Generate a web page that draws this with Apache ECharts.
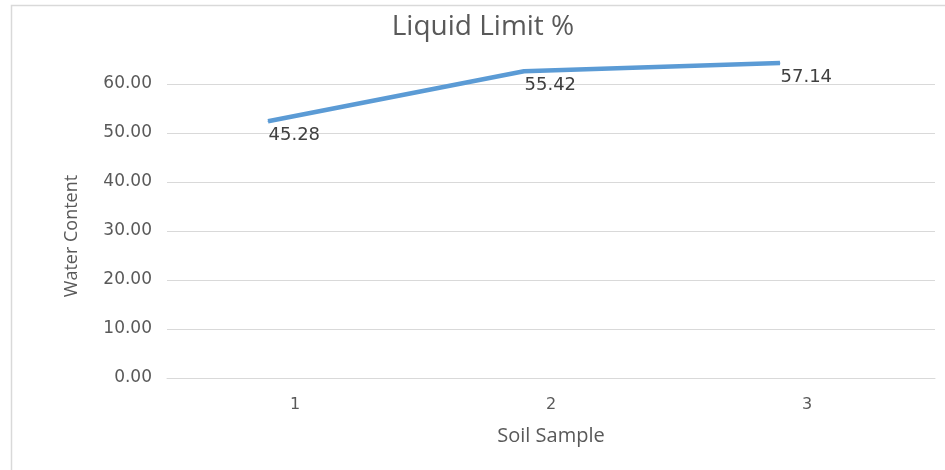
<!DOCTYPE html>
<html>
<head>
<meta charset="UTF-8">
<script src="https://cdn.jsdelivr.net/npm/echarts@6/dist/echarts.min.js"></script>
<style>
	html, body { margin: 0; padding: 0; background: #fff; }
	#main { width: 945px; height: 470px; }
</style>
</head>
<body>
	<div id="main"></div>
<script type="text/javascript">
// soil samples on the x axis
var categories = ['1', '2', '3'];
// where the line sits
var plottedValues = [52.4, 62.6, 64.3];
// numbers printed beside each point
var labelValues = [45.28, 55.42, 57.14];
// y axis range
var yMin = 0, yMax = 70, yStep = 10;

var grey = '#595959';
var gridGrey = '#d9d9d9';

var myChart = echarts.init(document.getElementById('main'));

var option = {
	backgroundColor: '#fff',
	title: {
		text: 'Liquid Limit %',
		left: 478,
		top: 8,
		textAlign: 'center',
		textStyle: { fontFamily: 'Open Sans', fontSize: 28, fontWeight: 'normal', color: grey }
	},
	grid: [
		{ left: 167, right: 10, top: 35, bottom: 92 },
		// the line is drawn a little left of the category labels, as in the picture
		{ left: 140, right: 37, top: 35, bottom: 92 }
	],
	xAxis: [{
		type: 'category',
		gridIndex: 0,
		data: categories,
		name: 'Soil Sample',
		nameLocation: 'middle',
		nameGap: 48,
		nameTextStyle: { fontFamily: 'Open Sans', fontSize: 20, color: grey },
		axisLine: { lineStyle: { color: gridGrey, width: 1 } },
		axisTick: { show: false },
		axisLabel: { fontFamily: 'DejaVu Sans', fontSize: 16, color: grey, margin: 19 }
	}, {
		type: 'category',
		gridIndex: 1,
		data: categories,
		show: false
	}],
	yAxis: [{
		type: 'value',
		gridIndex: 0,
		min: yMin,
		max: yMax,
		interval: yStep,
		axisLine: { show: false },
		axisTick: { show: false },
		axisLabel: {
			fontFamily: 'DejaVu Sans', fontSize: 17, color: grey, margin: 15,
			showMaxLabel: false,
			formatter: function (v) { return v.toFixed(2); }
		},
		splitLine: { showMaxLine: false, lineStyle: { color: gridGrey, width: 1 } }
	}, {
		type: 'value',
		gridIndex: 1,
		min: yMin,
		max: yMax,
		show: false
	}],
	series: [{
		type: 'line',
		xAxisIndex: 1,
		yAxisIndex: 1,
		data: plottedValues,
		symbol: 'circle',
		symbolSize: 1,
		showSymbol: true,
		itemStyle: { color: '#5b9bd5' },
		lineStyle: { color: '#5b9bd5', width: 4.5 },
		label: {
			show: true,
			position: 'right',
			distance: 0,
			offset: [0, 14],
			fontFamily: 'DejaVu Sans',
			fontSize: 18,
			color: '#404040',
			formatter: function (p) { return labelValues[p.dataIndex].toFixed(2); }
		},
		animation: false
	}],
	graphic: [{
		type: 'rect',
		shape: { x: 11.5, y: 5.5, width: 1000, height: 1000 },
		style: { fill: 'none', stroke: gridGrey, lineWidth: 1.5 },
		silent: true
	}, {
		type: 'text',
		x: 72,
		y: 236,
		rotation: Math.PI / 2,
		style: {
			text: 'Water Content',
			fontFamily: 'Open Sans',
			fontSize: 18,
			fill: grey,
			align: 'center',
			verticalAlign: 'middle'
		}
	}],
	animation: false
};

myChart.setOption(option);
</script>
</body>
</html>
